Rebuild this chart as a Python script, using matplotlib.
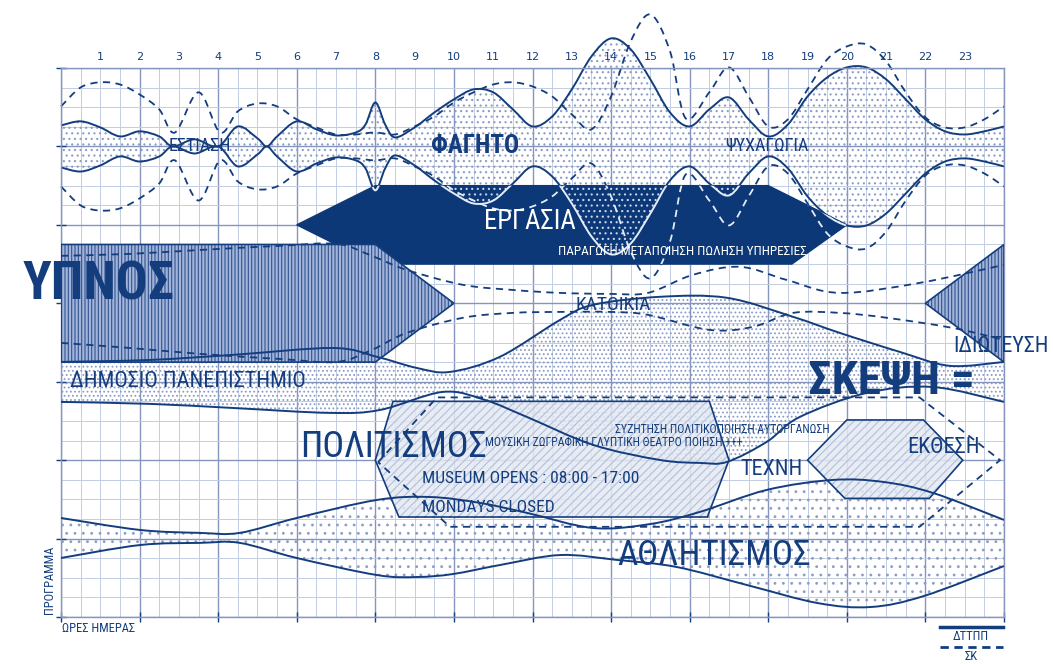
import numpy as np
import matplotlib
matplotlib.use("Agg")
import matplotlib.pyplot as plt
from matplotlib.path import Path
from matplotlib.patches import PathPatch, Polygon

# ---------------- data (hours on x, grid rows on y) ----------------
hour_labels = [str(i) for i in range(1, 24)]

# top band (food / leisure) : centre row and half-widths
top_center = 24
top_solid_h = [0, 0.5, 1, 1.5, 2, 2.5, 2.85, 3.4, 4, 4.5, 5, 5.24, 5.5, 6, 6.5, 7, 7.5, 7.75, 8, 8.25, 8.5,
               9, 9.5, 10, 10.5, 11, 11.5, 12, 12.5, 13, 13.5, 14, 14.5, 15, 15.5, 16, 16.5, 17, 17.5, 18,
               18.5, 19, 19.5, 20, 20.5, 21, 21.5, 22, 22.5, 23, 23.5, 24]
top_solid_w = [1.07, 1.28, 0.97, 0.51, 0.77, 0.51, 0.0, 0.36, 0.0, 1.02, 0.41, 0.0, 0.51, 1.28, 0.87, 0.56,
               0.71, 1.12, 2.24, 1.12, 0.46, 0.97, 1.73, 2.4, 2.91, 2.76, 1.89, 1.02, 1.53, 2.91, 4.59, 5.51,
               4.95, 3.42, 1.73, 1.02, 1.89, 2.5, 1.38, 0.51, 1.12, 2.55, 3.52, 4.03, 4.03, 3.42, 2.4, 1.38,
               0.77, 0.61, 0.77, 1.02]
top_dash_h = [0, 0.5, 1, 1.5, 2, 2.5, 2.9, 3.5, 4.05, 4.5, 5, 5.5, 6, 6.5, 7, 7.5, 8, 8.5, 9, 9.5, 10, 10.5,
              11, 11.5, 12, 12.5, 13, 13.5, 14, 14.5, 15, 15.5, 15.9, 16.5, 17, 17.5, 18, 18.5, 19, 19.5,
              20, 20.5, 21, 21.5, 22, 22.5, 23, 23.5, 24]
top_dash_w = [2.04, 3.01, 3.27, 3.16, 2.65, 1.89, 0.71, 2.76, 0.71, 1.79, 2.19, 2.04, 1.38, 0.97, 0.61, 0.61,
              0.71, 0.61, 1.02, 1.53, 2.24, 2.76, 3.16, 3.27, 3.06, 2.55, 1.63, 0.87, 2.55, 5.36, 6.73, 4.85,
              1.43, 2.76, 4.03, 2.55, 1.02, 1.38, 2.91, 4.44, 5.1, 5.2, 4.34, 2.76, 1.48, 0.97, 0.97, 1.38, 2.04]

# work block, sleep blocks
work_x = [6, 8, 18, 20, 18.6, 8]
work_y = [20, 22, 22, 20, 18, 18]
sleep_l_x = [0, 8, 10, 8, 0]
sleep_l_y = [19, 19, 16, 13, 13]
sleep_r_x = [24, 22, 24]
sleep_r_y = [19, 16, 13]

# middle band (housing / university / thought)
mid_up_h = [0, 2.26, 4.38, 6.92, 8.04, 9.06, 9.9, 11.17, 12.7, 13.54, 15.24, 16.95, 18.63, 19.82, 21.35, 22.62, 24]
mid_up_r = [13.01, 13.11, 13.37, 13.72, 13.27, 12.7, 12.5, 13.27, 15.15, 15.92, 16.33, 16.28, 15.31, 14.49, 13.52, 12.81, 13.01]
mid_lo_h = [0, 2.26, 4.38, 6.84, 8.12, 9.72, 10.79, 11.86, 13.54, 15.24, 16.26, 16.95, 17.96, 18.8, 20.51, 22.19, 24]
mid_lo_r = [10.97, 10.87, 10.66, 10.41, 10.56, 11.48, 11.07, 10.2, 8.78, 8.01, 7.86, 7.91, 8.93, 10.2, 11.43, 11.73, 10.97]

# dashed braid between sleep blocks
braid_a_h = [0, 1.76, 3.54, 5.57, 7.02, 7.91, 8.8, 10.23, 11.5, 12.7, 13.97, 14.94, 16.08, 17.28, 18.47, 19.82, 21.85, 24]
braid_a_r = [18.42, 18.52, 18.72, 18.93, 19.03, 18.42, 17.7, 16.94, 16.68, 16.53, 16.48, 16.53, 17.45, 17.86, 17.19, 16.53, 17.04, 17.96]
braid_b_h = [0, 1.76, 3.54, 5.57, 7.02, 7.91, 8.8, 10.23, 11.5, 12.7, 13.97, 14.94, 16.51, 17.61, 18.63, 19.82, 21.02, 22.7, 24]
braid_b_r = [13.98, 13.72, 13.42, 13.16, 13.01, 13.62, 14.49, 15.26, 15.51, 15.56, 15.56, 15.41, 14.64, 14.8, 15.51, 15.51, 15.26, 14.74, 14.13]

# sport band
sport_up_h = [0, 2.01, 3.54, 4.55, 6.0, 8.04, 9.39, 10.66, 11.86, 13.54, 14.99, 16.26, 17.96, 19.64, 20.92, 22.19, 24]
sport_up_r = [5.05, 4.44, 4.29, 4.29, 5.05, 5.97, 6.12, 5.82, 5.31, 4.54, 4.74, 5.36, 6.48, 6.99, 6.89, 6.33, 4.95]
sport_lo_h = [0, 2.01, 3.54, 4.55, 6.0, 8.04, 9.06, 9.97, 11.17, 12.7, 14.15, 15.67, 17.46, 19.26, 20.61, 21.96, 24]
sport_lo_r = [3.01, 3.67, 3.78, 3.78, 3.01, 2.14, 2.04, 2.19, 2.65, 3.16, 2.91, 2.55, 1.63, 0.71, 0.51, 1.07, 2.6]

# culture hexagons
culture_x = [8.0, 8.45, 16.5, 17.0, 16.45, 8.6]
culture_y = [8.0, 11.0, 11.0, 8.0, 5.1, 5.1]
expo_x = [19.0, 20.0, 21.95, 22.95, 22.1, 19.95]
expo_y = [8.0, 10.05, 10.05, 8.0, 6.05, 6.05]
arrow_x = [8.07, 9.57, 21.85, 23.9, 21.85, 9.9]
arrow_y = [7.9, 11.2, 11.2, 8.0, 4.6, 4.6]

# ---------------- style ----------------
NAVY = "#133d7d"
DARK = "#0c3877"
GRID_MINOR = "#c3cde2"
GRID_MAJOR = "#8595bd"
DOTS = "#8b9cc6"
FONT = ["Roboto Condensed", "Liberation Sans Narrow", "DejaVu Sans Condensed", "Roboto", "DejaVu Sans"]
plt.rcParams["hatch.linewidth"] = 0.8


def cr_segments(xs, ys):
    P = np.column_stack([xs, ys]).astype(float)
    n = len(P)
    verts = [P[0]]
    codes = [Path.MOVETO]
    for i in range(n - 1):
        p0 = P[i - 1] if i > 0 else P[i]
        p1, p2 = P[i], P[i + 1]
        p3 = P[i + 2] if i + 2 < n else P[i + 1]
        verts += [p1 + (p2 - p0) / 6.0, p2 - (p3 - p1) / 6.0, p2]
        codes += [Path.CURVE4] * 3
    return verts, codes


def curve(xs, ys):
    v, c = cr_segments(xs, ys)
    return Path(v, c)


def band(x1, y1, x2, y2):
    v1, c1 = cr_segments(x1, y1)
    v2, c2 = cr_segments(x2[::-1], y2[::-1])
    c2 = [Path.LINETO] + c2[1:]
    verts = v1 + v2 + [v1[0]]
    codes = c1 + c2 + [Path.CLOSEPOLY]
    return Path(verts, codes)


fig = plt.figure(figsize=(10.53, 6.64), dpi=100)
fig.patch.set_facecolor("white")
ax = fig.add_axes([61 / 1053, 47 / 664, 943 / 1053, 549 / 664])
ax.set_xlim(0, 24)
ax.set_ylim(0, 28)
ax.set_xticks(np.arange(0, 25, 2))
ax.set_xticks(np.arange(0, 24.01, 0.5), minor=True)
ax.set_yticks(np.arange(0, 29, 4))
ax.set_yticks(np.arange(0, 29, 1), minor=True)
ax.grid(which="minor", color=GRID_MINOR, lw=0.7, zorder=0)
ax.grid(which="major", color=GRID_MAJOR, lw=1.0, zorder=0)
ax.set_axisbelow(True)
ax.tick_params(which="major", direction="inout", length=7, width=1.0, color=NAVY,
               labelbottom=False, labelleft=False)
ax.tick_params(which="minor", length=0)
for s in ax.spines.values():
    s.set_color(GRID_MAJOR)
    s.set_linewidth(1.0)

th_s = np.array(top_solid_h)
tw_s = np.array(top_solid_w)
th_d = np.array(top_dash_h)
tw_d = np.array(top_dash_w)

# ---- top band ----
top_band = band(th_s, top_center + tw_s, th_s, top_center - tw_s)
ax.add_patch(PathPatch(top_band, facecolor="none", edgecolor=DOTS, lw=0, hatch="...", zorder=1, clip_on=False))

solid_paths = [curve(th_s, top_center + tw_s), curve(th_s, top_center - tw_s)]
dash_paths = [curve(th_d, top_center + tw_d), curve(th_d, top_center - tw_d)]
for p in solid_paths:
    ax.add_patch(PathPatch(p, fill=False, edgecolor=NAVY, lw=1.4, zorder=2, clip_on=False))
for p in dash_paths:
    ax.add_patch(PathPatch(p, fill=False, edgecolor=NAVY, lw=1.3, ls=(0, (4, 3)), zorder=2, clip_on=False))

# ---- work block ----
work = Polygon(np.column_stack([work_x, work_y]), closed=True, facecolor=DARK, edgecolor=DARK, lw=1, zorder=3)
ax.add_patch(work)
inner = PathPatch(top_band, facecolor="none", edgecolor="#c9d3ea", lw=0, hatch="...", zorder=3.2)
ax.add_patch(inner)
inner.set_clip_path(work)
for p in solid_paths:
    pp = PathPatch(p, fill=False, edgecolor="#e6ecf7", lw=1.4, zorder=3.3)
    ax.add_patch(pp)
    pp.set_clip_path(work)
for p in dash_paths:
    pp = PathPatch(p, fill=False, edgecolor="#e6ecf7", lw=1.3, ls=(0, (4, 3)), zorder=3.3)
    ax.add_patch(pp)
    pp.set_clip_path(work)

# ---- middle band ----
mid = band(mid_up_h, mid_up_r, mid_lo_h, mid_lo_r)
ax.add_patch(PathPatch(mid, facecolor="none", edgecolor=DOTS, lw=0, hatch="....", zorder=1))

# ---- sport band ----
sport = band(sport_up_h, sport_up_r, sport_lo_h, sport_lo_r)
ax.add_patch(PathPatch(sport, facecolor="none", edgecolor=DOTS, lw=0, hatch="..", zorder=1))

# ---- culture hexagons ----
for xs, ys in [(culture_x, culture_y), (expo_x, expo_y)]:
    pts = np.column_stack([xs, ys])
    ax.add_patch(Polygon(pts, closed=True, facecolor="#e4e9f3", alpha=0.85, edgecolor="none", zorder=4))
    ax.add_patch(Polygon(pts, closed=True, facecolor="none", edgecolor="#b4bfd8", lw=0, hatch="////", zorder=4.1))
    ax.add_patch(Polygon(pts, closed=True, fill=False, edgecolor=NAVY, lw=1.2, zorder=6))

# ---- sleep blocks ----
for xs, ys in [(sleep_l_x, sleep_l_y), (sleep_r_x, sleep_r_y)]:
    pts = np.column_stack([xs, ys])
    ax.add_patch(Polygon(pts, closed=True, facecolor="#a2b4da", edgecolor="none", zorder=5, clip_on=False))
    ax.add_patch(Polygon(pts, closed=True, facecolor="none", edgecolor="#34548f", lw=0, hatch="|||||",
                         zorder=5.1, clip_on=False))
    ax.add_patch(Polygon(pts, closed=True, fill=False, edgecolor=NAVY, lw=1.2, zorder=5.2))

# ---- lines of middle & sport bands ----
for xs, ys in [(mid_up_h, mid_up_r), (mid_lo_h, mid_lo_r), (sport_up_h, sport_up_r), (sport_lo_h, sport_lo_r)]:
    ax.add_patch(PathPatch(curve(xs, ys), fill=False, edgecolor=NAVY, lw=1.4, zorder=6))
for xs, ys in [(braid_a_h, braid_a_r), (braid_b_h, braid_b_r)]:
    ax.add_patch(PathPatch(curve(xs, ys), fill=False, edgecolor=NAVY, lw=1.3, ls=(0, (4, 3)), zorder=6))
ax.add_patch(Polygon(np.column_stack([arrow_x, arrow_y]), closed=True, fill=False, edgecolor=NAVY,
                     lw=1.3, ls=(0, (4, 3)), zorder=6))

# ---------------- text ----------------
fits = []


def T(x, y, s, size, width_px, ha="center", va="center", color=NAVY, weight="normal"):
    t = ax.text(x, y, s, fontsize=size, ha=ha, va=va, color=color, family=FONT, fontstretch="condensed",
                weight=weight, zorder=8, clip_on=False)
    fits.append((t, width_px, False))
    return t


for i, lab in enumerate(hour_labels, start=1):
    ax.text(i, 28.55, lab, fontsize=8, ha="center", va="center", color=NAVY, family="DejaVu Sans")

T(3.54, 24.0, "ΕΣΤΙΑΣΗ", 13, 64)
T(10.53, 24.0, "ΦΑΓΗΤΟ", 18, 90, weight="bold")
T(17.96, 24.0, "ΨΥΧΑΓΩΓΙΑ", 13, 85)
T(11.93, 20.15, "ΕΡΓΑΣΙΑ", 21, 92, color="white")
T(12.65, 18.62, "ΠΑΡΑΓΩΓΗ ΜΕΤΑΠΟΙΗΣΗ ΠΩΛΗΣΗ ΥΠΗΡΕΣΙΕΣ", 9.5, 258, ha="left", color="white")
T(-0.99, 16.94, "ΥΠΝΟΣ", 41, 152, ha="left", weight="bold")
T(14.05, 15.92, "ΚΑΤΟΙΚΙΑ", 14, 86)
T(0.23, 11.99, "ΔΗΜΟΣΙΟ ΠΑΝΕΠΙΣΤΗΜΙΟ", 16, 240, ha="left")
T(19.01, 12.04, "ΣΚΕΨΗ =", 34, 177, ha="left", weight="bold")
T(22.7, 13.78, "ΙΔΙΩΤΕΥΣΗ", 16, 96, ha="left")
T(6.08, 8.67, "ΠΟΛΙΤΙΣΜΟΣ", 28, 186, ha="left")
T(19.57, 9.54, "ΣΥΖΗΤΗΣΗ ΠΟΛΙΤΙΚΟΠΟΙΗΣΗ ΑΥΤΟΡΓΑΝΩΣΗ", 8.5, 286, ha="right")
T(10.79, 8.88, "ΜΟΥΣΙΚΗ ΖΩΓΡΑΦΙΚΗ ΓΛΥΠΤΙΚΗ ΘΕΑΤΡΟ ΠΟΙΗΣΗ +++", 8.5, 283, ha="left")
T(9.19, 7.04, "MUSEUM OPENS : 08:00 - 17:00", 12.5, 242, ha="left")
T(9.19, 5.61, "MONDAYS CLOSED", 12.5, 136, ha="left")
T(17.28, 7.5, "ΤΕΧΝΗ", 16, 62, ha="left")
T(21.53, 8.67, "ΕΚΘΕΣΗ", 16, 78, ha="left")
T(14.15, 3.16, "ΑΘΛΗΤΙΣΜΟΣ", 28, 194, ha="left")

t = fig.text(49 / 1053, 1 - 580 / 664, "ΠΡΟΓΡΑΜΜΑ", rotation=90, fontsize=9, ha="center", va="center",
             color=NAVY, family=FONT, fontstretch="condensed")
fits.append((t, 74, True))
t = fig.text(62 / 1053, 1 - 628 / 664, "ΩΡΕΣ ΗΜΕΡΑΣ", fontsize=9, ha="left", va="center", color=NAVY,
             family=FONT, fontstretch="condensed")
fits.append((t, 80, False))

# logo
fig.add_artist(plt.Line2D([940 / 1053, 1003 / 1053], [1 - 627 / 664] * 2, color=NAVY, lw=2.5))
t = fig.text(971 / 1053, 1 - 637 / 664, "ΔΤΤΠΠ", fontsize=9, ha="center", va="center", color=NAVY,
             family=FONT, fontstretch="condensed")
fits.append((t, 54, False))
fig.add_artist(plt.Line2D([940 / 1053, 1003 / 1053], [1 - 647 / 664] * 2, color=NAVY, lw=2,
                          ls=(0, (3, 2))))
fig.text(971 / 1053, 1 - 657 / 664, "ΣΚ", fontsize=9, ha="center", va="center", color=NAVY, family=FONT,
         fontstretch="condensed")

# fit each label into the width it takes in the reference
renderer = fig.canvas.get_renderer()
for t, w, vertical in fits:
    bb = t.get_window_extent(renderer)
    cur = bb.height if vertical else bb.width
    if cur > w:
        t.set_fontsize(t.get_fontsize() * w / cur)

fig.savefig("out.png", dpi=100, facecolor="white")
